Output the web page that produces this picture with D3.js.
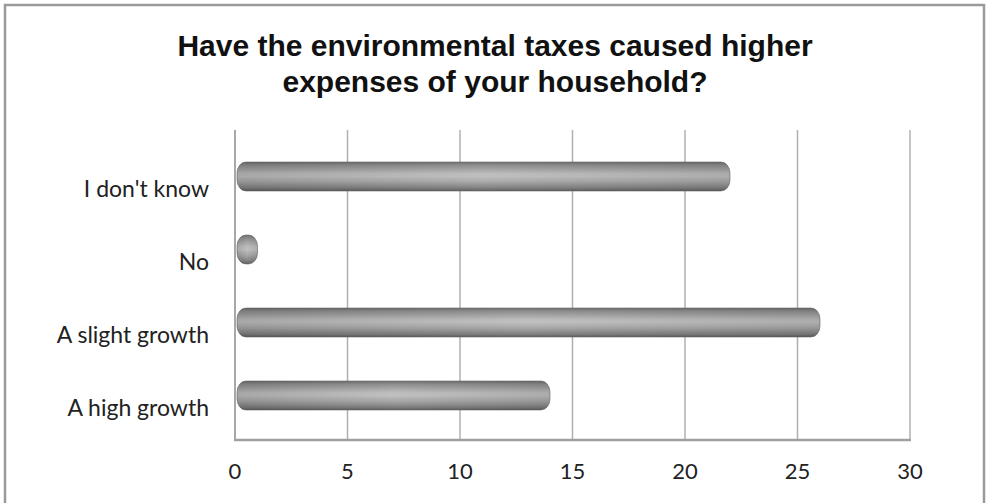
<!DOCTYPE html>
<html>
<head>
<meta charset="utf-8">
<script src="https://cdn.jsdelivr.net/npm/d3@7"></script>
<style>
html,body{margin:0;padding:0;background:#fff;}
svg{display:block;}
</style>
</head>
<body>
<script>
const categories = ["I don't know", "No", "A slight growth", "A high growth"];
const values = [22, 1, 26, 14];
const tickValues = [0, 5, 10, 15, 20, 25, 30];
const titleLines = ["Have the environmental taxes caused higher", "expenses of your household?"];

const W = 986, H = 503;
const svg = d3.select("body").append("svg").attr("width", W).attr("height", H);

const defs = svg.append("defs");
const g1 = defs.append("linearGradient").attr("id","cyl").attr("x1",0).attr("y1",0).attr("x2",0).attr("y2",1);
[[0,"#707070"],[0.12,"#909090"],[0.4,"#bdbdbd"],[0.5,"#c0c0c0"],[0.7,"#a6a6a6"],[0.9,"#808080"],[1,"#5e5e5e"]]
  .forEach(([o,c])=>g1.append("stop").attr("offset",o).attr("stop-color",c));
const g2 = defs.append("linearGradient").attr("id","endshade").attr("x1",0).attr("y1",0).attr("x2",1).attr("y2",0);
[[0,"#000",0.25],[0.5,"#000",0],[1,"#000",0.2]].forEach(([o,c,a])=>g2.append("stop").attr("offset",o).attr("stop-color",c).attr("stop-opacity",a));

// outer frame
svg.append("rect").attr("x",5).attr("y",5).attr("width",979).attr("height",510)
  .attr("fill","none").attr("stroke","#9a9a9a").attr("stroke-width",2.5);

const x = d3.scaleLinear().domain([0,30]).range([235,910]);
const y = d3.scaleBand().domain(categories).range([140,432]).paddingInner(0.6).paddingOuter(0.3);

const plotTop = 130, plotBottom = 440;

// gridlines
svg.append("g").selectAll("line").data(tickValues.slice(1)).join("line")
  .attr("x1",d=>x(d)).attr("x2",d=>x(d)).attr("y1",plotTop).attr("y2",plotBottom)
  .attr("stroke","#b0b0b0").attr("stroke-width",1.5);

// left axis line
svg.append("line").attr("x1",x(0)).attr("x2",x(0)).attr("y1",plotTop).attr("y2",plotBottom)
  .attr("stroke","#a8a8a8").attr("stroke-width",2);
// floor line
svg.append("line").attr("x1",x(0)-1).attr("x2",x(30)+1).attr("y1",plotBottom).attr("y2",plotBottom)
  .attr("stroke","#a0a0a0").attr("stroke-width",2.5);

// bars
const bars = svg.append("g");
const bh = 29;
categories.forEach((c,i)=>{
  const cy = y(c) + y.bandwidth()/2;
  const x0 = x(0)+2, x1 = x(values[i]);
  const w = Math.max(x1-x0, 14);
  bars.append("rect").attr("x",x0).attr("y",cy-bh/2).attr("width",w).attr("height",bh)
    .attr("rx",Math.min(9,w/2)).attr("ry",11).attr("fill","url(#cyl)")
    .attr("stroke","#6a6a6a").attr("stroke-width",0.6);
  bars.append("rect").attr("x",x0).attr("y",cy-bh/2).attr("width",w).attr("height",bh)
    .attr("rx",Math.min(9,w/2)).attr("ry",11).attr("fill","url(#endshade)").attr("opacity",0.5);
});

// category labels
svg.append("g").selectAll("text").data(categories).join("text")
  .attr("x",209).attr("y",d=>y(d)+y.bandwidth()/2+11)
  .attr("text-anchor","end").attr("dominant-baseline","central")
  .attr("font-family","Lato, 'Open Sans', sans-serif").attr("font-size",23)
  .attr("fill","#222").text(d=>d);

// tick labels
svg.append("g").selectAll("text").data(tickValues).join("text")
  .attr("x",d=>x(d)).attr("y",470).attr("text-anchor","middle").attr("dominant-baseline","central")
  .attr("font-family","Lato, 'Open Sans', sans-serif").attr("font-size",22)
  .attr("fill","#222").text(d=>d);

// title
svg.append("g").selectAll("text").data(titleLines).join("text")
  .attr("x",495).attr("y",(d,i)=>45+i*36).attr("text-anchor","middle").attr("dominant-baseline","central")
  .attr("font-family","'Liberation Sans', Arial, sans-serif").attr("font-weight","bold").attr("font-size",30)
  .attr("fill","#111").text(d=>d);
</script>
</body>
</html>
